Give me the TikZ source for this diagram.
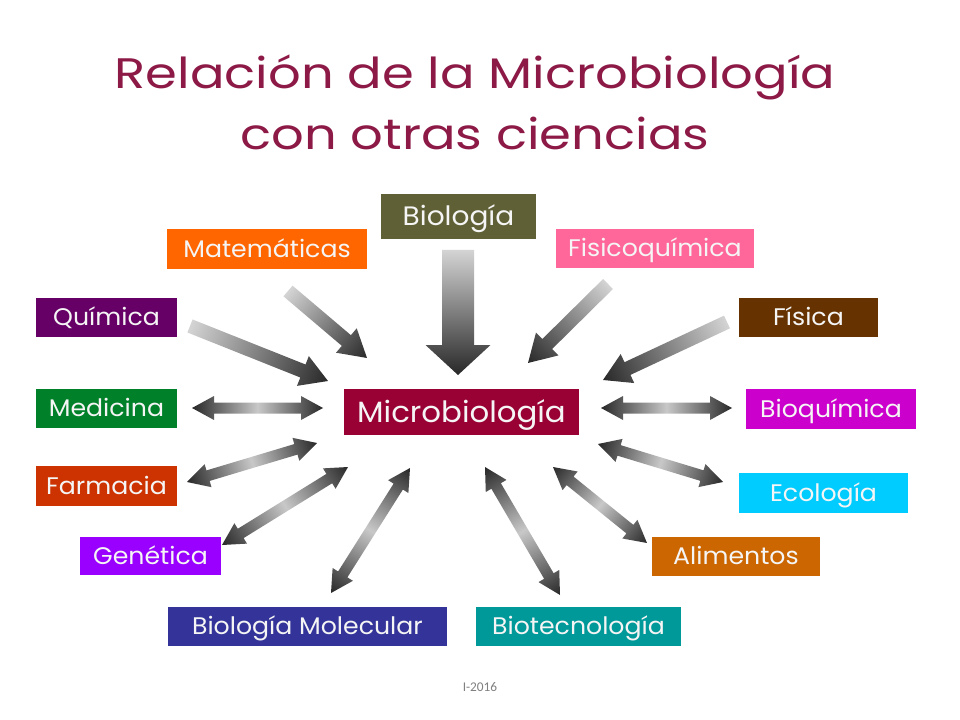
\documentclass[tikz,border=0pt]{standalone}
\usepackage{fontspec}
\setmainfont{Poppins}[FakeStretch=1.05]
\newfontfamily\titlefont{Poppins}[FakeStretch=1.2]
\newfontfamily\smallfont{Carlito}
\definecolor{titlec}{RGB}{140,25,70}
\definecolor{cbio}{RGB}{96,96,54}
\definecolor{cmat}{RGB}{255,102,0}
\definecolor{cfqu}{RGB}{255,102,153}
\definecolor{cqui}{RGB}{102,0,102}
\definecolor{cfis}{RGB}{102,51,0}
\definecolor{cmed}{RGB}{0,128,40}
\definecolor{cmic}{RGB}{153,0,51}
\definecolor{cbqu}{RGB}{204,0,204}
\definecolor{cfar}{RGB}{204,51,0}
\definecolor{ceco}{RGB}{0,204,255}
\definecolor{cgen}{RGB}{153,0,255}
\definecolor{cali}{RGB}{204,102,0}
\definecolor{cbmo}{RGB}{51,51,153}
\definecolor{cbte}{RGB}{0,153,153}
\definecolor{agl}{RGB}{212,212,212}
\definecolor{agm}{RGB}{200,200,200}
\definecolor{agd}{RGB}{40,40,40}
\definecolor{txtc}{RGB}{245,245,245}
\newcommand\onearrow[7]{%
  \pgfmathsetmacro\arDx{#3-#1}%
  \pgfmathsetmacro\arDy{#4-#2}%
  \pgfmathsetmacro\arLen{veclen(\arDx,\arDy)}%
  \pgfmathsetmacro\arAng{atan2(-\arDy,\arDx)}%
  \pgfmathsetmacro\arSw{#5/2}%
  \pgfmathsetmacro\arHw{#6/2}%
  \pgfmathsetmacro\arHb{\arLen-#7}%
  \begin{scope}[transform canvas={shift={(#1,#2)},rotate=\arAng}]
    \shade[left color=agl, right color=agd]
      (0,-\arSw) -- (\arHb,-\arSw) -- (\arHb,-\arHw) -- (\arLen,0) -- (\arHb,\arHw) -- (\arHb,\arSw) -- (0,\arSw) -- cycle;
  \end{scope}}
\newcommand\twoarrow[7]{%
  \pgfmathsetmacro\arDx{#3-#1}%
  \pgfmathsetmacro\arDy{#4-#2}%
  \pgfmathsetmacro\arLen{veclen(\arDx,\arDy)}%
  \pgfmathsetmacro\arAng{atan2(-\arDy,\arDx)}%
  \pgfmathsetmacro\arSw{#5/2}%
  \pgfmathsetmacro\arHw{#6/2}%
  \pgfmathsetmacro\arHa{#7}%
  \pgfmathsetmacro\arHb{\arLen-#7}%
  \begin{scope}[transform canvas={shift={(#1,#2)},rotate=\arAng}]
    \shade[left color=agd, right color=agd, middle color=agm]
      (0,0) -- (\arHa,-\arHw) -- (\arHa,-\arSw) -- (\arHb,-\arSw) -- (\arHb,-\arHw) -- (\arLen,0)
      -- (\arHb,\arHw) -- (\arHb,\arSw) -- (\arHa,\arSw) -- (\arHa,\arHw) -- cycle;
  \end{scope}}
\begin{document}
\begin{tikzpicture}[x=0.75pt,y=-0.75pt,
  sbox/.style n args={3}{fill=#1, text=txtc, inner sep=0pt,
    minimum width=#2*0.75pt, minimum height=#3*0.75pt, text height=12.6pt, text depth=0pt,
    font=\fontsize{18}{20}\selectfont},
  bigtext/.style={font=\fontsize{#1}{#1}\selectfont, text height=0.7*#1 pt},
  ttl/.style={text=titlec, font=\titlefont\fontsize{32}{36}\selectfont, anchor=base, inner sep=0pt}]
\useasboundingbox[fill=white] (0,0) rectangle (960,720);
\node[ttl] (t1) at (475,89) {Relación de la Microbiología};
\node[ttl] (t2) at (475,150) {con otras ciencias};

\node[sbox={cbio}{155}{45}, bigtext=20] (bio) at (458.5,216.5) {Biología};
\node[sbox={cmat}{200}{40}] (mat) at (267,249) {Matemáticas};
\node[sbox={cfqu}{198}{39}] (fqu) at (655,248.5) {Fisicoquímica};
\node[sbox={cqui}{141}{39}] (qui) at (106.5,317.5) {Química};
\node[sbox={cfis}{139}{39}] (fis) at (808.5,317.5) {Física};
\node[sbox={cmed}{141}{39}] (med) at (106.5,408.5) {Medicina};
\node[sbox={cmic}{235}{46}, bigtext=22] (mic) at (461.5,412) {Microbiología};
\node[sbox={cbqu}{170}{40}] (bqu) at (831,409) {Bioquímica};
\node[sbox={cfar}{141}{40}] (far) at (106.5,486) {Farmacia};
\node[sbox={ceco}{169}{40}] (eco) at (823.5,493) {Ecología};
\node[sbox={cgen}{141}{38}] (gen) at (150.5,556) {Genética};
\node[sbox={cali}{168}{39}] (ali) at (736,556.5) {Alimentos};
\node[sbox={cbmo}{279}{39}] (bmo) at (307.5,626.5) {Biología Molecular};
\node[sbox={cbte}{205}{39}] (bte) at (578.5,626.5) {Biotecnología};

\node[text=gray, font=\smallfont\fontsize{10}{12}\selectfont] (foot) at (480,687) {I-2016};

% single arrows (into Microbiología)
\onearrow{458}{250}{458}{375}{32}{65}{30}
\onearrow{288}{291}{367}{358}{14}{32}{27}
\onearrow{608}{284}{528}{363}{14}{32}{27}
\onearrow{190}{326}{328}{381}{14}{32}{27}
\onearrow{727}{322}{603}{380}{14}{32}{27}
% double arrows
\twoarrow{192}{408}{323}{408}{11}{24}{22}
\twoarrow{601}{408}{732}{408}{11}{24}{22}
\twoarrow{187}{482}{317}{443}{11}{24}{22}
\twoarrow{598}{444}{723}{482}{11}{24}{22}
\twoarrow{222}{545}{348}{467}{11}{24}{22}
\twoarrow{553}{467}{647}{543}{11}{24}{22}
\twoarrow{331}{593}{410}{468}{11}{24}{22}
\twoarrow{485}{467}{560}{595}{11}{24}{22}
\end{tikzpicture}
\end{document}
